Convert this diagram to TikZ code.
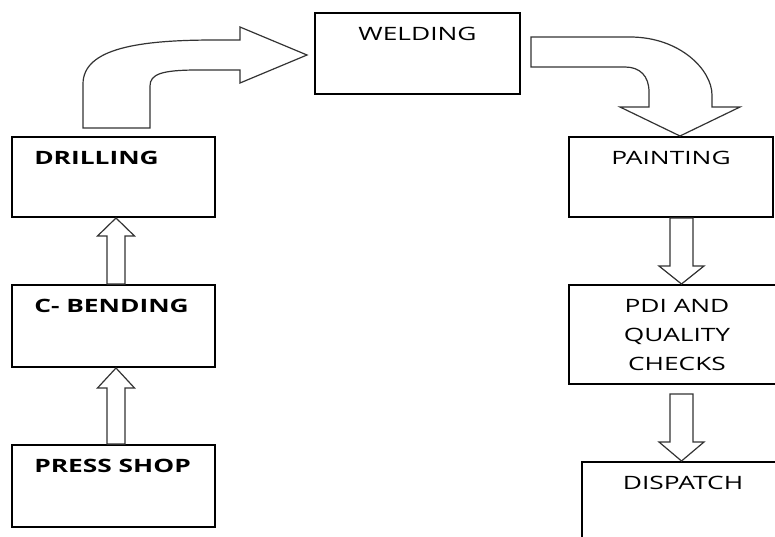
\documentclass[tikz,border=0pt]{standalone}
\usepackage{fontspec}
\setmainfont{Open Sans}[FakeStretch=1.43]
\usetikzlibrary{calc}
\usetikzlibrary{fit}

% straight block arrow: start, tip, half shaft, half head, head length (signed)
\newcommand{\vblock}[5]{%
  \draw[blockline] ($(#1)+(-#3,0)$) -- ($(#2)+(-#3,#5)$) -- ($(#2)+(-#4,#5)$) -- (#2)
    -- ($(#2)+(#4,#5)$) -- ($(#2)+(#3,#5)$) -- ($(#1)+(#3,0)$) -- cycle;}

\tikzset{
  stage/.style={draw, line width=1.5pt, rectangle, inner sep=0pt},
  tag/.style={font=\fontsize{13.8pt}{21.75pt}\selectfont, inner sep=0pt, align=center},
  boldtag/.style={tag, font=\fontsize{13.8pt}{21.75pt}\selectfont\bfseries},
  lefttext/.style={label={[boldtag, anchor=north west, xshift=17.25pt, yshift=-11.25pt]north west:#1}},
  midtext/.style={label={[tag, anchor=north, yshift=-11pt]north:#1}},
  blockline/.style={draw=black!80, line width=0.9pt, fill=white, line join=miter},
}

\begin{document}
\begin{tikzpicture}[x=0.75pt, y=-0.75pt]
	% Fill background and fix the page
	\fill[white] (0,0) rectangle (775,536);
	\useasboundingbox (0,0) rectangle (775,536);

	% Stages on the left (bottom to top)
	\node[stage, lefttext={PRESS SHOP}, fit={(12,445) (215,527)}] (press) {};
	\node[stage, lefttext={C- BENDING}, fit={(12,285) (215,367)}] (bend) {};
	\node[stage, lefttext={DRILLING}, fit={(12,137) (215,217)}] (drill) {};

	% Stage on top
	\node[stage, midtext={WELDING}, fit={(315,13) (520,94)}] (weld) {};

	% Stages on the right (top to bottom)
	\node[stage, midtext={PAINTING}, fit={(569,137) (773,217)}] (paint) {};
	\node[stage, midtext={PDI AND\\QUALITY\\CHECKS}, fit={(569,285) (785,384)}] (pdi) {};
	\node[stage, midtext={DISPATCH}, fit={(582,462) (784,550)}] (dispatch) {};

	% Arrows going up on the left
	\coordinate (s1) at ($(press.north)+(2.5,0)$);
	\coordinate (t1) at ($(bend.south)+(2.5,0)$);
	\vblock{s1}{t1}{9}{18.5}{20}
	\coordinate (s2) at ($(bend.north)+(2.5,0)$);
	\coordinate (t2) at ($(drill.south)+(2.5,0)$);
	\vblock{s2}{t2}{9}{18.5}{18}

	% Bent arrows over the top
	\coordinate (wtip) at ($(weld.west)+(-7,1.5)$);
	\coordinate (ptip) at ($(paint.north)+(9,0)$);
	\draw[blockline] (83,128) -- (83,84) .. controls (83,48) and (140,40) .. (215,40) -- (240,40)
		-- (240,27) -- (wtip) -- (240,83) -- (240,70) -- (198,70)
		.. controls (162,70) and (150,74) .. (150,86) -- (150,128) -- cycle;
	\draw[blockline] (531,37) -- (630,37) .. controls (680,37) and (712,70) .. (712,95) -- (712,107)
		-- (740,107) -- (ptip) -- (620,107) -- (649,107) -- (649,92)
		.. controls (649,76) and (640,67) .. (625,67) -- (531,67) -- cycle;

	% Arrows going down on the right
	\coordinate (s3) at ($(paint.south)+(10.5,0)$);
	\coordinate (t3) at (s3 |- pdi.north);
	\vblock{s3}{t3}{11.5}{22.5}{-18}
	\coordinate (s4) at ($(pdi.south)+(4.5,9)$);
	\coordinate (t4) at (s4 |- dispatch.north);
	\vblock{s4}{t4}{11.5}{22.5}{-19}
\end{tikzpicture}
\end{document}
